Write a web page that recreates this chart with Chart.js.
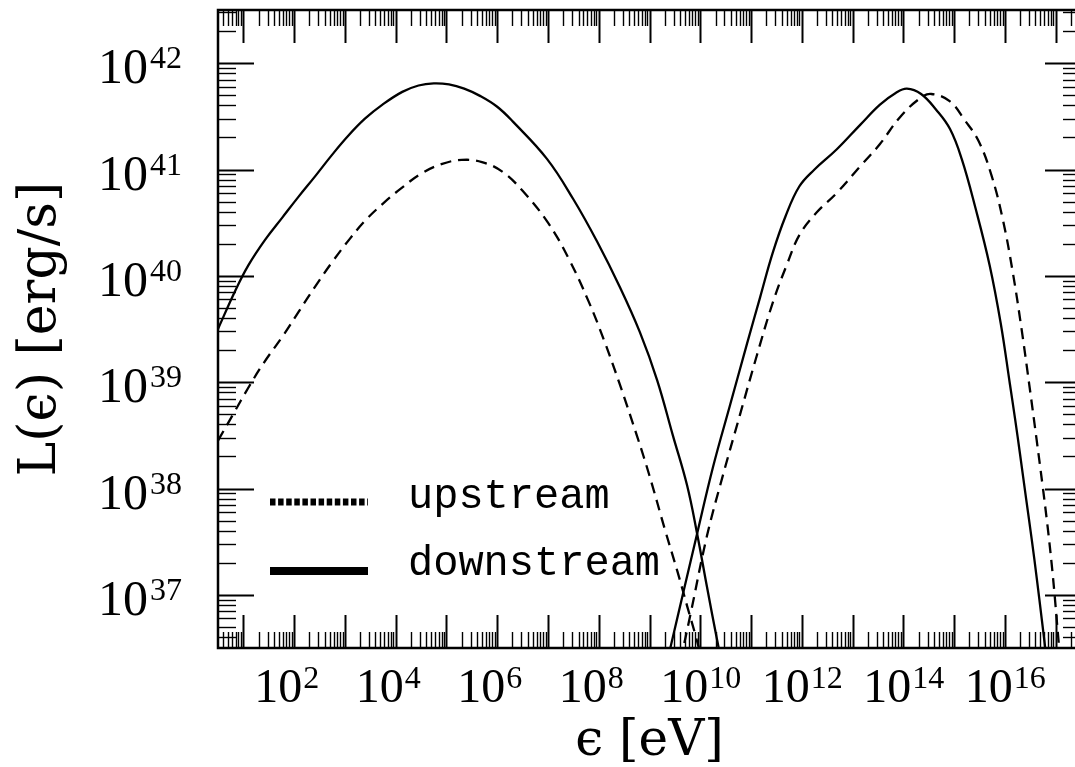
<!DOCTYPE html>
<html>
<head>
<meta charset="utf-8">
<script src="https://cdn.jsdelivr.net/npm/chart.js@4.4.1/dist/chart.umd.min.js"></script>
<style>
  html, body { margin: 0; padding: 0; background: #fff; overflow: hidden; }
  canvas { display: block; }
</style>
</head>
<body>
<canvas id="sed" width="1085" height="767"></canvas>
<script>
// Values, kept as exponents:
// E = log10(eps / eV), L = log10(L / erg s^-1)

// upstream, low energy bump (dashed)
const upSynE = [0.5, 0.8, 1.1, 1.4, 1.8, 2.1, 2.4, 2.75, 3.1, 3.4, 3.75, 4.1, 4.5, 4.9, 5.3, 5.7, 6.1, 6.5, 7.0, 7.4, 7.8, 8.1, 8.4, 8.75, 9.0, 9.3, 9.55, 9.75, 9.9, 10.05];
const upSynL = [38.45, 38.70, 38.95, 39.18, 39.45, 39.67, 39.89, 40.13, 40.35, 40.52, 40.68, 40.82, 40.96, 41.05, 41.09, 41.07, 40.98, 40.80, 40.50, 40.17, 39.76, 39.40, 39.00, 38.50, 38.12, 37.62, 37.22, 36.88, 36.63, 36.36];

// upstream, high energy bump (dashed)
const upIcE = [9.61, 9.80, 10.13, 10.45, 10.78, 11.12, 11.43, 11.71, 11.96, 12.30, 12.69, 13.15, 13.54, 13.93, 14.33, 14.55, 14.92, 15.20, 15.48, 15.74, 15.96, 16.15, 16.32, 16.48, 16.62, 16.74, 16.84, 16.92, 16.98, 17.03, 17.07, 17.10];
const upIcL = [36.38, 36.80, 37.55, 38.13, 38.69, 39.26, 39.75, 40.11, 40.39, 40.60, 40.78, 41.03, 41.24, 41.49, 41.67, 41.71, 41.64, 41.47, 41.27, 40.94, 40.53, 40.05, 39.53, 38.98, 38.48, 38.04, 37.65, 37.30, 37.00, 36.72, 36.50, 36.33];

// downstream, low energy bump (solid)
const downSynE = [0.5, 0.84, 1.10, 1.43, 1.77, 2.08, 2.42, 2.75, 3.07, 3.40, 3.74, 4.13, 4.45, 4.75, 5.05, 5.35, 5.67, 6.0, 6.31, 6.98, 7.50, 7.97, 8.42, 8.81, 9.15, 9.46, 9.74, 9.94, 10.13, 10.33, 10.45];
const downSynL = [39.50, 39.86, 40.10, 40.34, 40.55, 40.74, 40.94, 41.14, 41.32, 41.48, 41.61, 41.73, 41.79, 41.81, 41.80, 41.76, 41.69, 41.59, 41.45, 41.10, 40.72, 40.32, 39.89, 39.47, 39.02, 38.50, 38.03, 37.57, 37.08, 36.58, 36.30];

// downstream, high energy bump (solid)
const downIcE = [9.35, 9.41, 9.94, 10.25, 10.59, 10.92, 11.18, 11.43, 11.68, 11.95, 12.25, 12.69, 13.15, 13.54, 13.85, 14.07, 14.35, 14.65, 14.92, 15.15, 15.42, 15.70, 15.92, 16.10, 16.20, 16.30, 16.42, 16.53, 16.63, 16.73, 16.79, 16.83];
const downIcL = [36.38, 36.50, 37.58, 38.20, 38.79, 39.36, 39.80, 40.22, 40.56, 40.84, 41.00, 41.19, 41.42, 41.61, 41.72, 41.76, 41.71, 41.56, 41.38, 41.10, 40.64, 40.10, 39.55, 38.98, 38.66, 38.32, 37.90, 37.52, 37.15, 36.76, 36.52, 36.36];

// axes
const xRange = [0.5, 17.5];
const yRange = [36.5, 42.5];
const xTickExps = [2, 4, 6, 8, 10, 12, 14, 16];
const yTickExps = [37, 38, 39, 40, 41, 42];

const legendItems = ['upstream', 'downstream'];

function pts(es, ls) {
  return es.map((e, i) => ({ x: Math.pow(10, e), y: Math.pow(10, ls[i]) }));
}

const dashed = [11, 7];

function curve(label, es, ls, dash) {
  return {
    label: label,
    data: pts(es, ls),
    showLine: true,
    borderColor: '#000',
    borderWidth: 2.3,
    borderDash: dash,
    pointRadius: 0,
    tension: 0.4,
    fill: false
  };
}

// frame with inward ticks on all four sides, tick labels, legend
const framePlugin = {
  id: 'frame',
  afterDraw(chart) {
    const ctx = chart.ctx;
    const a = chart.chartArea;
    const xs = chart.scales.x, ys = chart.scales.y;
    ctx.save();
    ctx.strokeStyle = '#000';
    ctx.fillStyle = '#000';

    function seg(x1, y1, x2, y2) {
      ctx.beginPath();
      ctx.moveTo(x1, y1);
      ctx.lineTo(x2, y2);
      ctx.stroke();
    }

    // x ticks
    for (let n = Math.floor(xRange[0]); n <= Math.ceil(xRange[1]); n++) {
      for (let m = 1; m < 10; m++) {
        const v = m * Math.pow(10, n);
        if (v < xs.min * 0.999 || v > xs.max * 1.001) continue;
        const p = Math.round(xs.getPixelForValue(v)) + 0.5;
        const len = m === 1 ? 33 : 16;
        ctx.lineWidth = m === 1 ? 2 : 1.4;
        seg(p, a.bottom, p, a.bottom - len);
        seg(p, a.top, p, a.top + len);
      }
    }
    // y ticks
    for (let n = Math.floor(yRange[0]); n <= Math.ceil(yRange[1]); n++) {
      for (let m = 1; m < 10; m++) {
        const v = m * Math.pow(10, n);
        if (v < ys.min * 0.999 || v > ys.max * 1.001) continue;
        const p = Math.round(ys.getPixelForValue(v)) + 0.5;
        const len = m === 1 ? 36 : 18;
        ctx.lineWidth = m === 1 ? 2 : 1.4;
        seg(a.left, p, a.left + len, p);
        seg(a.right, p, a.right - len, p);
      }
    }

    // box
    ctx.lineWidth = 2.5;
    ctx.strokeRect(a.left, a.top, a.right - a.left, a.bottom - a.top);

    // tick labels: 10 with a raised exponent
    ctx.textBaseline = 'alphabetic';
    xTickExps.forEach(n => {
      const p = xs.getPixelForValue(Math.pow(10, n));
      ctx.font = '48px "Liberation Serif", serif';
      ctx.textAlign = 'right';
      ctx.fillText('10', p + 8, a.bottom + 54);
      ctx.font = '32px "Liberation Serif", serif';
      ctx.textAlign = 'left';
      ctx.fillText(String(n), p + 9, a.bottom + 40);
    });
    yTickExps.forEach(n => {
      const p = ys.getPixelForValue(Math.pow(10, n));
      ctx.font = '50px "Liberation Serif", serif';
      ctx.textAlign = 'right';
      ctx.fillText('10', 148, p + 20);
      ctx.font = '32px "Liberation Serif", serif';
      ctx.textAlign = 'left';
      ctx.fillText(String(n), 150, p + 5);
    });

    // legend, inside the frame
    const lx = a.left + 52, lw = 98, tx = a.left + 190;
    ctx.font = '42px "Liberation Mono", monospace';
    ctx.textAlign = 'left';
    // upstream: short dense dashes
    ctx.lineWidth = 7;
    ctx.setLineDash([5.5, 2.6]);
    seg(lx, a.top + 492, lx + lw, a.top + 492);
    ctx.fillText(legendItems[0], tx, a.top + 498);
    // downstream: thick solid
    ctx.setLineDash([]);
    ctx.lineWidth = 8;
    seg(lx, a.top + 561, lx + lw, a.top + 561);
    ctx.fillText(legendItems[1], tx, a.top + 565);

    ctx.restore();
  }
};

const ctx = document.getElementById('sed').getContext('2d');

const config = {
  type: 'scatter',
  data: {
    datasets: [
      curve(legendItems[0], upSynE, upSynL, dashed),
      curve(legendItems[0], upIcE, upIcL, dashed),
      curve(legendItems[1], downSynE, downSynL, []),
      curve(legendItems[1], downIcE, downIcL, [])
    ]
  },
  options: {
    responsive: false,
    animation: false,
    layout: { padding: { top: 10, right: 4, left: 0, bottom: 0 } },
    plugins: {
      legend: { display: false },
      tooltip: { enabled: false }
    },
    scales: {
      x: {
        type: 'logarithmic',
        bounds: 'data',
        min: Math.pow(10, xRange[0]),
        max: Math.pow(10, xRange[1]),
        ticks: { display: false },
        grid: { display: false },
        border: { display: false },
        title: {
          display: true,
          text: 'ϵ [eV]',
          color: '#000',
          font: { family: '"DejaVu Serif", serif', size: 50, lineHeight: 1 },
          padding: { top: 0, bottom: 0 }
        },
        afterFit(s) { s.height = 119; }
      },
      y: {
        type: 'logarithmic',
        bounds: 'data',
        min: Math.pow(10, yRange[0]),
        max: Math.pow(10, yRange[1]),
        ticks: { display: false },
        grid: { display: false },
        border: { display: false },
        title: {
          display: true,
          text: 'L(ϵ) [erg/s]',
          color: '#000',
          font: { family: '"DejaVu Serif", serif', size: 52, lineHeight: 1 },
          padding: { top: 15, bottom: 0 }
        },
        afterFit(s) { s.width = 218; }
      }
    }
  },
  plugins: [framePlugin]
};

const sedChart = new Chart(ctx, config);
</script>
</body>
</html>
